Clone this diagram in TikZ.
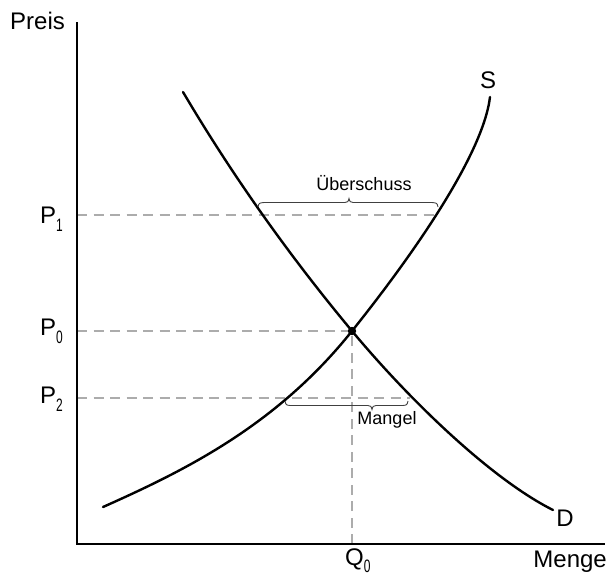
\documentclass[tikz,border=0pt]{standalone}
\usepackage{fontspec}
\setmainfont{Liberation Sans}
\usepackage{graphicx}
\begin{document}
\begin{tikzpicture}[x=1pt,y=-1pt,
  curve/.style={line width=2.4pt, black, line cap=round},
  guide/.style={line width=2pt, gray!65, dash pattern=on 10pt off 6.5pt},
  axisline/.style={line width=1.3pt, black},
  bracepath/.style={line width=0.9pt, black!75},
  biglab/.style={font=\fontsize{24}{24}\selectfont, inner sep=0pt},
  smalllab/.style={font=\fontsize{18}{18}\selectfont, inner sep=0pt},
]
\newcommand{\subdig}[2][-8pt]{\raisebox{#1}{\scalebox{0.6}[0.9]{\fontsize{20}{20}\selectfont #2}}}
\useasboundingbox (0,0) rectangle (610,576);
% coordinates
\coordinate (O) at (77,544);
\coordinate (ytop) at (77,22);
\coordinate (xend) at (605,544);
\coordinate (E) at (352,331);
\coordinate (S1) at (437,215);
\coordinate (S2) at (285,398);
\coordinate (D1) at (258,215);
\coordinate (D2) at (410,398);
\coordinate (A1) at (77,215);
\coordinate (A0) at (77,331);
\coordinate (A2) at (77,398);
\coordinate (Q) at (352,544);
\coordinate (Sstart) at (103,507);
\coordinate (Send) at (490,97);
\coordinate (Dstart) at (183,92);
\coordinate (Dend) at (553,510);
% guides
\draw[guide] (A1) -- (S1);
\draw[guide] (A0) -- (E);
\draw[guide] (A2) -- (D2);
\draw[guide] (Q) -- (E);
% axes
\draw[axisline] (ytop) -- (O) -- (xend);
% curves
\draw[curve] (Sstart) .. controls (186,470) and (277,425) .. (E)
  .. controls (412,256) and (483,155) .. (Send);
\draw[curve] (Dstart) .. controls (238,185) and (297,265) .. (E)
  .. controls (412,403) and (493,480) .. (Dend);
\fill (E) circle (4.2pt);
% braces
\draw[bracepath] (258,207) .. controls (259,203) .. (264,202.5) -- (345,202.5) .. controls (348,202) .. (349,198.5) .. controls (350,202) .. (353,202.5) -- (432,202.5) .. controls (437,203) .. (438,207);
\draw[bracepath] (285,401) .. controls (286,405) .. (290,405.5) -- (368,405.5) .. controls (371,406) .. (372,409.5) .. controls (373,406) .. (376,405.5) -- (403,405.5) .. controls (407,405) .. (408,401);
% labels
\node[biglab, anchor=base west] (preis) at (10,29) {Preis};
\node[biglab, anchor=base east] (menge) at (607,567) {Menge};
\node[biglab, anchor=base west] (p1) at (40,223) {P\subdig{1}};
\node[biglab, anchor=base west] (p0) at (40,335) {P\subdig{0}};
\node[biglab, anchor=base west] (p2) at (40,403) {P\subdig{2}};
\node[biglab, anchor=base west] (q0) at (345,565) {Q\subdig[-7pt]{0}};
\node[biglab] (slab) at (488,80) {S};
\node[biglab] (dlab) at (565,518) {D};
\node[smalllab] (ueber) at (364,183) {Überschuss};
\node[smalllab] (mangel) at (387,420) {Mangel};
\end{tikzpicture}
\end{document}
